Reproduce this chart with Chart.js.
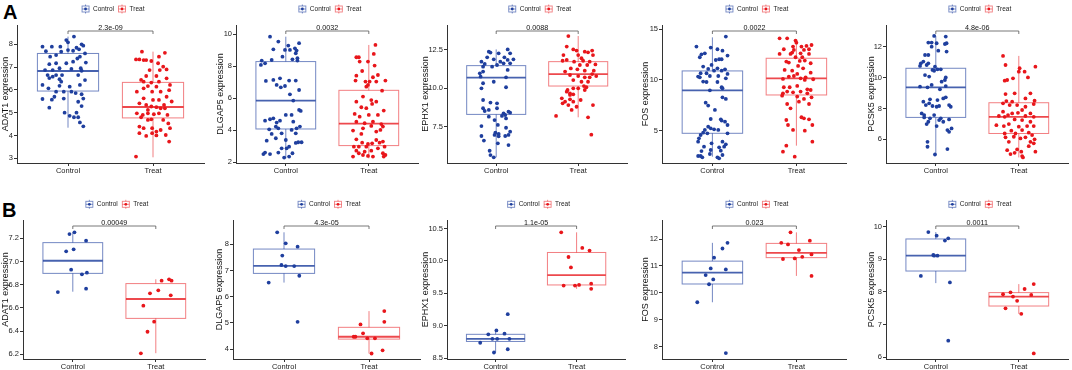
<!DOCTYPE html>
<html>
<head>
<meta charset="utf-8">
<script src="https://cdn.jsdelivr.net/npm/chart.js@4"></script>
<style>
  body { margin: 0; background: #fff; }
  #fig { position: relative; width: 1072px; height: 370px; overflow: hidden; background: #fff; }
  #fig canvas { position: absolute; }
  .tag { position: absolute; font: bold 20px 'Liberation Sans', Arial, sans-serif; line-height: 20px; color: #000; }
</style>
</head>
<body>
<div id="fig">
  <div class="tag" style="left:3px;top:2px">A</div>
  <div class="tag" style="left:2px;top:200px">B</div>
</div>
<script>
// groups and genes
const groups = ['Control', 'Treat'];
const genes = ['ADAT1', 'DLGAP5', 'EPHX1', 'FOS', 'PCSK5'];

// p values of the comparisons
const pValuesA = ['2.3e-09', '0.0032', '0.0088', '0.0022', '4.8e-06'];
const pValuesB = ['0.00049', '4.3e-05', '1.1e-05', '0.023', '0.0011'];

// y tick labels
const yTicksA = [
  ['3', '4', '5', '6', '7', '8'],
  ['2', '4', '6', '8', '10'],
  ['7.5', '10.0', '12.5'],
  ['5', '10', '15'],
  ['6', '8', '10', '12']
];
const yTicksB = [
  ['6.2', '6.4', '6.6', '6.8', '7.0', '7.2'],
  ['4', '5', '6', '7', '8'],
  ['8.5', '9.0', '9.5', '10.0', '10.5'],
  ['8', '9', '10', '11', '12'],
  ['6', '7', '8', '9', '10']
];

// y axis limits
const yRangeA = [[2.79, 8.85], [1.94, 10.58], [5.13, 14.13], [1.81, 15.42], [4.47, 13.4]];
const yRangeB = [[6.16, 7.358], [3.62, 8.93], [8.49, 10.63], [7.54, 12.71], [5.95, 10.2]];

// box stats: [lower whisker, q1, median, q3, upper whisker] for Control, Treat
const boxA = [
  [[4.34, 5.95, 6.83, 7.6, 8.34], [3.04, 4.77, 5.25, 6.33, 7.68]],
  [[2.23, 4.07, 5.85, 8.29, 9.85], [2.23, 3.03, 4.4, 6.49, 9.33]],
  [[5.5, 8.3, 10.7, 11.48, 12.54], [8.11, 10.15, 10.93, 11.74, 13.41]],
  [[2.43, 4.74, 8.98, 10.89, 14.2], [3.52, 8.52, 10.16, 12.14, 13.9]],
  [[4.98, 7.42, 9.37, 10.6, 12.69], [4.83, 6.38, 7.46, 8.37, 11.4]]
];
const boxB = [
  [[6.74, 6.898, 7.007, 7.163, 7.25], [6.21, 6.51, 6.677, 6.81, 6.847]],
  [[6.54, 6.89, 7.18, 7.82, 8.46], [3.83, 4.38, 4.47, 4.83, 5.45]],
  [[8.59, 8.76, 8.8, 8.87, 8.93], [9.57, 9.63, 9.78, 10.13, 10.44]],
  [[9.65, 10.33, 10.75, 11.18, 11.86], [10.63, 11.31, 11.49, 11.84, 12.25]],
  [[8.27, 8.64, 9.11, 9.62, 9.83], [7.33, 7.57, 7.86, 7.98, 8.24]]
];

// jittered samples: [x jitter, expression]
const adat1A_ctrl = [[0.07,8.34],[-0.02,8.19],[0,8.09],[-0.19,7.9],[-0.3,7.9],[-0.09,7.9],[0.16,8.0],[0.18,7.94],[0.1,7.85],[0,7.75],[-0.26,7.7],[-0.08,7.68],[0.06,7.72],[0.13,7.78],[-0.14,7.53],[-0.21,7.46],[0.14,7.46],[0.11,7.38],[0.2,7.6],[0.06,7.24],[-0.14,7.17],[0.21,7.2],[-0.22,7.13],[-0.02,7.17],[0.15,6.95],[-0.27,6.87],[-0.18,6.87],[-0.1,6.95],[0.04,6.92],[0.16,6.84],[-0.24,6.65],[-0.18,6.58],[-0.14,6.65],[-0.07,6.65],[-0.1,6.47],[-0.22,6.52],[0.12,6.65],[-0.3,6.22],[-0.23,6.07],[-0.08,6.36],[0.02,6.14],[0.14,6.22],[0.2,6.43],[-0.14,5.92],[-0.05,5.92],[0.04,5.92],[0.16,5.81],[0.09,5.86],[-0.3,5.6],[-0.16,5.7],[-0.05,5.62],[0.12,5.48],[0.18,5.62],[-0.22,5.22],[0.16,5.29],[-0.04,5.0],[0.1,5.0],[0.02,4.86],[0.07,4.8],[0.12,4.8],[0.14,4.57],[0.18,4.4],[-0.19,5.57],[-0.1,6.18]];
const adat1A_treat = [[-0.13,7.68],[-0.2,7.34],[-0.16,7.34],[-0.11,7.31],[-0.08,7.31],[0.07,7.46],[0.14,7.63],[-0.02,7.27],[0.06,7.17],[0.12,7.02],[-0.04,6.87],[0.08,6.87],[0.16,6.9],[-0.11,6.36],[-0.14,6.44],[-0.02,6.32],[0.07,6.36],[0.2,6.22],[-0.06,6.17],[0.04,6.14],[-0.19,5.92],[-0.01,5.92],[0.09,5.92],[0.19,5.99],[-0.11,5.63],[0,5.56],[0.07,5.56],[0.16,5.7],[-0.16,5.41],[-0.08,5.34],[-0.02,5.27],[0.04,5.24],[0.13,5.34],[0.22,5.49],[-0.19,4.97],[-0.12,4.9],[-0.06,4.97],[0.01,4.93],[0.07,4.97],[0.17,4.9],[-0.14,4.8],[-0.06,4.68],[-0.02,4.71],[0.12,4.68],[0.18,4.53],[-0.16,4.39],[-0.11,4.32],[-0.01,4.32],[0.09,4.24],[0.2,4.32],[-0.16,4.1],[-0.08,3.98],[-0.01,4.1],[0.04,4.17],[0.15,4.02],[0.04,4.0],[0.19,3.73],[-0.2,3.07],[0.09,5.19],[-0.06,5.12],[0.14,5.19],[-0.11,6.07],[0.16,6.51],[-0.08,6.61],[0.04,6.61]];

const dlgap5A_ctrl = [[-0.19,9.85],[-0.09,9.54],[0.03,9.29],[0.16,9.44],[-0.15,9.06],[-0.01,9.02],[0.05,9.02],[0.11,9.12],[0.13,8.98],[0.12,8.81],[-0.04,8.6],[0.14,8.5],[0.08,8.43],[-0.17,8.39],[-0.29,8.35],[-0.25,8.18],[-0.3,8.08],[0.14,8.35],[-0.15,7.14],[-0.07,7.24],[0.04,7.1],[0.12,7.1],[-0.24,7.08],[-0.11,6.83],[-0.06,6.68],[-0.01,6.76],[0.16,6.51],[0.05,6.24],[0.09,5.85],[0.16,5.26],[0.18,5.2],[0,4.95],[0.07,4.95],[-0.15,4.74],[-0.25,4.59],[-0.07,4.59],[-0.19,4.68],[-0.11,4.47],[0.09,4.53],[-0.12,4.22],[0.17,4.22],[0.13,4.11],[0.07,4.01],[-0.09,4.11],[-0.2,4.05],[-0.17,3.76],[-0.05,3.8],[0.12,3.8],[-0.12,3.49],[0,3.38],[0.15,3.24],[0.19,3.24],[-0.23,3.34],[-0.05,2.86],[0.01,2.86],[0.04,2.96],[-0.25,2.59],[-0.27,2.5],[-0.09,2.59],[0.08,2.55],[-0.19,2.5],[-0.02,2.28],[0.04,2.34],[0.12,3.2]];
const dlgap5A_treat = [[0.08,9.33],[0.06,8.77],[-0.15,8.56],[-0.12,8.56],[-0.01,8.29],[-0.11,8.29],[0.07,8.04],[-0.08,7.7],[-0.15,7.41],[0.11,7.45],[0.05,7.31],[0.2,7.1],[-0.16,7.1],[-0.04,7.04],[0.01,7.04],[0.09,7.04],[-0.01,6.83],[-0.03,6.72],[0.16,6.47],[-0.07,6.1],[-0.15,5.78],[0.03,5.88],[0.09,5.78],[-0.09,5.43],[-0.03,5.37],[0.04,5.64],[0.18,5.22],[-0.17,5.01],[-0.11,4.84],[0,4.95],[0.11,4.95],[-0.15,4.53],[-0.05,4.43],[0.05,4.53],[0.15,4.38],[-0.07,4.11],[0.03,4.26],[0.17,4.22],[-0.19,3.97],[-0.09,3.76],[0.09,3.91],[0.14,4.01],[-0.15,3.42],[0.09,3.38],[0.13,3.21],[0.17,3.28],[-0.08,3.21],[0.04,3.17],[-0.01,3.13],[-0.18,2.96],[-0.12,2.96],[-0.03,2.96],[0.11,2.86],[0.19,2.96],[-0.15,2.71],[-0.05,2.65],[0.03,2.71],[0.17,2.55],[0.2,2.44],[-0.12,2.55],[-0.01,2.38],[0.05,2.34],[-0.19,2.34],[-0.07,2.44],[0.18,2.34]];

const ephx1A_ctrl = [[0.14,12.54],[-0.09,12.39],[-0.07,12.33],[0.03,12.28],[0.17,12.28],[-0.11,12.02],[0.1,12.02],[-0.03,11.89],[0.14,11.85],[0.21,11.89],[-0.18,11.74],[0.05,11.74],[-0.14,11.59],[0.01,11.52],[0.09,11.63],[0.17,11.63],[-0.16,11.41],[-0.05,11.41],[-0.16,11.09],[-0.2,10.98],[0.14,11.2],[-0.19,10.76],[0.12,10.72],[-0.03,10.43],[-0.16,10.33],[0.12,10.07],[-0.18,10.0],[-0.16,9.24],[-0.07,9.07],[0.01,9.02],[-0.16,8.7],[-0.09,8.59],[0.01,8.7],[-0.14,8.52],[0.09,8.37],[0.15,8.48],[0.17,8.41],[0.11,8.26],[-0.09,8.15],[0.07,8.2],[-0.02,7.93],[0.12,8.04],[0.02,7.61],[-0.18,7.54],[0.12,7.43],[-0.01,7.11],[-0.02,6.96],[0.03,7.02],[0.17,7.17],[0.11,6.89],[0.15,6.96],[-0.18,6.89],[-0.15,6.59],[0.02,6.41],[0.15,6.3],[-0.08,5.93],[-0.07,5.65],[-0.03,5.5],[0.03,6.87]];
const ephx1A_treat = [[-0.12,13.41],[-0.14,12.72],[-0.06,12.54],[-0.02,12.46],[0.08,12.39],[0.12,12.35],[0.17,12.46],[-0.18,12.17],[0,12.17],[0.04,11.96],[0.18,12.17],[-0.14,11.85],[-0.19,11.8],[-0.05,11.74],[0.06,11.8],[0.14,11.74],[0.11,11.52],[0.02,11.52],[0.21,11.56],[-0.09,11.3],[-0.01,11.24],[0.08,11.15],[0.19,11.15],[0.17,10.93],[-0.16,11.09],[-0.1,10.87],[0,10.8],[0.08,10.72],[0.14,10.72],[0.22,10.8],[-0.06,10.54],[0.04,10.43],[0.12,10.43],[0.07,10.15],[0.1,10.07],[0,10.0],[-0.06,10.0],[-0.13,9.89],[-0.14,9.78],[-0.1,9.67],[-0.1,9.57],[-0.06,9.61],[0.08,9.89],[-0.2,9.35],[-0.1,9.28],[-0.16,9.13],[-0.06,9.13],[0.03,9.24],[-0.12,8.91],[-0.19,9.02],[-0.02,8.8],[0.18,8.91],[-0.08,8.59],[-0.27,8.2],[0.12,8.11],[0.16,6.98]];

const fosA_ctrl = [[0.16,14.28],[-0.19,13.29],[-0.02,13.19],[0.06,13.03],[0.12,12.89],[-0.13,12.53],[-0.09,12.63],[0.18,12.4],[-0.15,12.24],[0.08,12.04],[0.11,12.04],[0.04,11.97],[-0.01,11.48],[-0.11,11.32],[-0.05,11.09],[0.06,11.15],[0.15,11.05],[0.02,10.92],[0.11,10.92],[-0.14,10.66],[-0.07,10.66],[-0.17,10.33],[-0.15,10.26],[-0.03,10.39],[0.07,10.39],[0.18,10.59],[0.16,10.16],[-0.11,9.84],[-0.07,9.8],[0.06,9.8],[0.11,9.28],[-0.03,8.98],[0.12,9.18],[0.12,8.29],[0.16,8.13],[-0.08,7.76],[-0.05,7.47],[0.03,7.04],[-0.02,6.15],[0.1,6.12],[0.11,5.99],[0.15,5.89],[0.18,5.56],[-0.05,5.39],[-0.02,5.23],[0.02,5.13],[-0.09,5.07],[0.07,5.07],[-0.11,4.8],[-0.06,4.74],[-0.14,4.57],[0.18,4.74],[-0.16,4.24],[-0.17,3.91],[0.12,3.91],[0.16,3.65],[0.14,3.42],[-0.01,3.75],[-0.1,3.42],[0.08,3.36],[-0.02,3.09],[-0.13,2.99],[0.1,3.03],[-0.03,2.7],[-0.17,2.5],[-0.14,2.5],[-0.12,2.37],[0.06,2.37],[0.12,2.6],[0.08,2.27]];
const fosA_treat = [[-0.2,14.11],[-0.11,14.11],[-0.01,13.88],[0,13.68],[-0.04,13.29],[0.06,13.29],[0.12,13.36],[0.18,13.45],[-0.15,13.03],[-0.03,12.96],[0.09,12.96],[0.15,13.03],[-0.05,12.7],[-0.07,12.57],[-0.2,12.57],[0.05,12.63],[0.15,12.57],[-0.01,12.24],[0.07,12.24],[-0.12,11.81],[-0.09,11.71],[0.04,11.88],[0.1,11.91],[0.17,11.65],[0.02,11.38],[0.08,11.15],[-0.14,10.99],[-0.05,10.92],[0.01,10.59],[-0.09,10.33],[-0.03,10.39],[0.11,10.26],[0.17,10.72],[-0.16,10.1],[0.05,10.16],[0.1,10.0],[0.2,10.07],[-0.15,9.28],[-0.08,9.28],[0.01,9.41],[0.13,9.08],[0.17,9.01],[-0.11,8.85],[-0.04,8.78],[0.05,8.85],[-0.16,8.68],[-0.17,8.45],[0.13,8.68],[0.01,8.36],[0.09,8.13],[0.18,8.29],[-0.11,7.63],[0.15,7.63],[0.03,7.86],[-0.07,7.2],[0.06,6.32],[0.09,6.22],[0.15,6.12],[-0.12,6.05],[-0.1,5.56],[0.19,5.56],[0.1,5.0],[-0.04,5.07],[-0.12,3.52],[-0.16,2.93],[-0.02,2.43],[0.19,3.91]];

const pcsk5A_ctrl = [[-0.02,12.69],[0.12,12.65],[-0.09,12.26],[-0.05,12.26],[0.01,12.22],[0.11,12.17],[0.13,12.22],[-0.05,12.0],[-0.13,11.46],[-0.09,11.46],[0.13,11.68],[0.03,11.74],[-0.15,11.03],[-0.18,10.92],[-0.11,10.81],[-0.19,10.75],[-0.09,10.92],[0.02,10.53],[-0.04,10.49],[0.06,10.53],[-0.01,10.7],[-0.02,10.44],[-0.13,10.16],[-0.08,10.06],[0.12,10.01],[0.11,9.84],[0.07,9.73],[-0.19,9.41],[-0.1,9.37],[-0.05,9.52],[0.05,9.24],[0.12,9.45],[-0.07,8.59],[0.02,8.54],[-0.15,8.44],[0.09,8.65],[0.12,8.72],[-0.04,8.16],[0.01,8.11],[0.04,8.16],[0.18,8.11],[0.16,8.22],[-0.12,8.22],[-0.08,8.33],[-0.17,7.68],[-0.14,7.57],[-0.02,7.57],[-0.14,7.42],[-0.07,7.36],[-0.09,7.14],[-0.11,6.99],[0.06,7.36],[0.04,7.25],[0.16,7.29],[0.09,7.14],[0.14,6.6],[0.19,6.71],[0.16,6.49],[0.01,6.86],[-0.1,5.84],[-0.1,5.52],[0.14,5.37],[-0.01,5.02]];
const pcsk5A_treat = [[-0.19,11.4],[-0.16,10.81],[0.01,10.6],[0.2,10.7],[0,10.38],[0.07,10.38],[-0.14,9.84],[-0.17,9.8],[-0.07,9.95],[0.11,10.01],[-0.05,8.98],[0.14,8.98],[-0.16,8.93],[0.08,8.65],[-0.15,8.48],[-0.19,8.33],[-0.08,8.44],[0.19,8.5],[-0.11,8.22],[-0.02,8.22],[0.08,8.11],[0.18,8.28],[0.04,7.9],[-0.19,7.79],[-0.08,7.68],[-0.01,7.72],[0.14,7.68],[-0.13,7.57],[-0.24,7.51],[-0.17,7.46],[0.08,7.51],[0.18,7.46],[-0.05,7.29],[0.04,7.25],[0.14,7.14],[-0.12,6.99],[-0.18,6.86],[-0.27,6.92],[0,6.82],[0.1,6.86],[0.18,6.86],[-0.09,6.56],[0.04,6.6],[-0.17,6.38],[-0.04,6.38],[0.12,6.43],[0.16,6.28],[-0.16,6.13],[-0.06,6.17],[0.02,6.06],[0.08,6.13],[0.19,6.0],[-0.12,5.84],[0.14,5.84],[0.18,5.74],[0.12,5.56],[-0.14,5.3],[-0.02,5.35],[0.2,5.2],[-0.1,5.05],[-0.05,5.13],[0.04,4.92],[0.05,4.83],[0.03,5.2]];

const adat1B_ctrl = [[0.02,7.252],[-0.04,7.237],[0.16,7.18],[0.01,7.105],[-0.08,7.088],[-0.02,6.93],[0.17,6.904],[0.11,6.89],[-0.18,6.737],[0.16,6.766]];
const adat1B_treat = [[0.16,6.847],[0.19,6.835],[0.07,6.835],[0.03,6.752],[-0.07,6.726],[0.18,6.709],[-0.15,6.62],[-0.02,6.482],[-0.1,6.395],[-0.18,6.209]];
const dlgap5B_ctrl = [[-0.08,8.46],[0.02,8.04],[0.16,7.91],[-0.02,7.57],[-0.03,7.21],[0.02,7.17],[0.12,7.17],[0.18,6.8],[-0.18,6.54],[0.16,5.04]];
const dlgap5B_treat = [[0.18,5.45],[0.18,5.04],[-0.1,4.94],[-0.07,4.6],[-0.18,4.47],[-0.16,4.47],[-0.02,4.41],[0.07,4.41],[0.16,3.95],[0.03,3.83]];
const ephx1B_ctrl = [[0.15,9.18],[0.01,8.93],[-0.09,8.87],[0.11,8.88],[-0.04,8.8],[0.02,8.8],[0.17,8.8],[-0.19,8.74],[0.15,8.64],[-0.02,8.59]];
const ephx1B_treat = [[-0.19,10.44],[0.07,10.2],[0.16,10.16],[-0.1,10.06],[-0.07,9.9],[-0.16,9.62],[-0.02,9.62],[0.03,9.63],[0.18,9.65],[0.18,9.57]];
const fosB_ctrl = [[0.18,11.86],[0.12,11.65],[0.02,11.31],[-0.02,10.91],[0.16,10.87],[-0.08,10.66],[0.01,10.5],[-0.04,10.32],[-0.18,9.65],[0.16,7.76]];
const fosB_treat = [[-0.07,12.25],[0.16,11.94],[-0.18,11.86],[-0.1,11.8],[0.03,11.59],[0.18,11.43],[0.07,11.34],[-0.16,11.26],[-0.02,11.28],[0.18,10.63]];
const pcsk5B_ctrl = [[-0.09,9.83],[0.01,9.72],[0.15,9.64],[0.11,9.57],[-0.03,9.13],[0.02,9.11],[-0.02,9.11],[-0.18,8.49],[0.17,8.29],[0.15,6.51]];
const pcsk5B_treat = [[0.18,8.24],[0.07,8.09],[-0.1,7.99],[-0.19,7.93],[0.15,7.91],[-0.07,7.86],[-0.02,7.73],[-0.16,7.5],[0.03,7.33],[0.18,6.12]];

const samplesA = [[adat1A_ctrl, adat1A_treat], [dlgap5A_ctrl, dlgap5A_treat], [ephx1A_ctrl, ephx1A_treat], [fosA_ctrl, fosA_treat], [pcsk5A_ctrl, pcsk5A_treat]];
const samplesB = [[adat1B_ctrl, adat1B_treat], [dlgap5B_ctrl, dlgap5B_treat], [ephx1B_ctrl, ephx1B_treat], [fosB_ctrl, fosB_treat], [pcsk5B_ctrl, pcsk5B_treat]];

// ---- layout / style ----
const FONT = "'Liberation Sans', Arial, sans-serif";
const pointColors = ['#1f3f9e', '#e8161b'];
const boxColors = ['rgba(31,63,158,0.62)', 'rgba(232,22,27,0.55)'];
const medianColors = ['rgba(31,63,158,0.82)', 'rgba(232,22,27,0.78)'];

// title centre x, y axis line x, px per category (page coordinates)
const geoA = [{ tx: 5, L: 17, u: 85 }, { tx: 220, L: 236, u: 83 }, { tx: 425, L: 447, u: 82 }, { tx: 645, L: 662, u: 84 }, { tx: 871, L: 886, u: 83 }];
const geoB = [{ tx: 5, L: 23, u: 83 }, { tx: 219, L: 233, u: 85 }, { tx: 425, L: 447, u: 81 }, { tx: 645, L: 662, u: 84 }, { tx: 871, L: 886, u: 83 }];
const rowA = { top: 0, plotTop: 25, plotBottom: 163, legendY: 9 };
const rowB = { top: 185, plotTop: 220, plotBottom: 359, legendY: 19.3 };

const boxPlugin = {
  id: 'boxes',
  beforeDatasetsDraw(chart, args, opts) {
    const { ctx, scales: { x, y } } = chart;
    opts.stats.forEach((s, i) => {
      const cx = x.getPixelForValue(i + 1);
      const hw = x.getPixelForValue(i + 1.36) - cx;
      const [lo, q1, med, q3, hi] = s.map(v => y.getPixelForValue(v));
      ctx.save();
      ctx.strokeStyle = boxColors[i];
      ctx.lineWidth = 1;
      ctx.beginPath();
      ctx.moveTo(cx, q3); ctx.lineTo(cx, hi);
      ctx.moveTo(cx, q1); ctx.lineTo(cx, lo);
      ctx.stroke();
      ctx.strokeRect(cx - hw, q3, hw * 2, q1 - q3);
      ctx.strokeStyle = medianColors[i];
      ctx.lineWidth = 1.8;
      ctx.beginPath();
      ctx.moveTo(cx - hw, med); ctx.lineTo(cx + hw, med);
      ctx.stroke();
      ctx.restore();
    });
  },
  afterDatasetsDraw(chart, args, opts) {
    const { ctx, chartArea, scales: { x } } = chart;
    const x1 = x.getPixelForValue(1), x2 = x.getPixelForValue(2);
    const by = chartArea.top + 6;
    ctx.save();
    ctx.strokeStyle = '#555';
    ctx.lineWidth = 0.8;
    ctx.beginPath();
    ctx.moveTo(x1, by + 3); ctx.lineTo(x1, by); ctx.lineTo(x2, by); ctx.lineTo(x2, by + 3);
    ctx.stroke();
    ctx.fillStyle = '#111';
    ctx.font = '7.2px ' + FONT;
    ctx.textAlign = 'center';
    ctx.textBaseline = 'alphabetic';
    ctx.fillText(opts.pValue, (x1 + x2) / 2, by - 1.4);
    ctx.restore();
  },
  afterDraw(chart, args, opts) {
    const { ctx, chartArea } = chart;
    ctx.save();
    ctx.font = '6.5px ' + FONT;
    const iw = 8, gap = 3.5, sep = 4;
    const widths = groups.map(g => ctx.measureText(g).width);
    const total = groups.length * (iw + gap) + widths[0] + sep + widths[1];
    let cx = (chartArea.left + chartArea.right) / 2 + 2.5 - total / 2;
    const cy = opts.legendY;
    groups.forEach((g, i) => {
      ctx.strokeStyle = boxColors[i];
      ctx.lineWidth = 0.9;
      ctx.strokeRect(cx + 0.5, cy - 3, iw - 1, 6);
      ctx.beginPath();
      ctx.moveTo(cx + iw / 2, cy - 4.5); ctx.lineTo(cx + iw / 2, cy - 3);
      ctx.moveTo(cx + iw / 2, cy + 3); ctx.lineTo(cx + iw / 2, cy + 4.5);
      ctx.moveTo(cx + 0.5, cy); ctx.lineTo(cx + iw - 0.5, cy);
      ctx.stroke();
      ctx.fillStyle = pointColors[i];
      ctx.beginPath();
      ctx.arc(cx + iw / 2, cy, 1.4, 0, Math.PI * 2);
      ctx.fill();
      cx += iw + gap;
      ctx.fillStyle = '#222';
      ctx.textAlign = 'left';
      ctx.textBaseline = 'middle';
      ctx.fillText(g, cx, cy + 0.3);
      cx += widths[i] + sep;
    });
    ctx.restore();
  }
};

function makePanel(k, row, geo, samples, stats, range, tickLabels, pValue) {
  const left = Math.max(0, Math.round(geo.tx - 5.4));
  const R = geo.L + 2.2 * geo.u;
  const width = Math.ceil(R) - left + 3;
  const height = 185;
  const canvas = document.createElement('canvas');
  canvas.width = width;
  canvas.height = height;
  canvas.style.left = left + 'px';
  canvas.style.top = row.top + 'px';
  document.getElementById('fig').appendChild(canvas);

  const yW = geo.L - left;
  const xH = row.top + height - row.plotBottom;
  const tickVals = tickLabels.map(Number);

  new Chart(canvas, {
    type: 'scatter',
    data: {
      datasets: groups.map((g, i) => ({
        label: g,
        data: samples[i].map(p => ({ x: i + 1 + p[0], y: p[1] })),
        pointRadius: 1.9,
        pointBorderWidth: 0,
        pointBackgroundColor: pointColors[i],
        pointHoverRadius: 1.9
      }))
    },
    options: {
      responsive: false,
      animation: false,
      events: [],
      layout: { padding: { top: row.plotTop - row.top, right: width - (R - left), bottom: 0, left: 0 } },
      plugins: {
        legend: { display: false },
        tooltip: { enabled: false },
        boxes: { stats: stats, pValue: pValue, legendY: row.legendY }
      },
      scales: {
        x: {
          type: 'linear',
          min: 0.4,
          max: 2.6,
          afterBuildTicks: s => { s.ticks = [{ value: 1 }, { value: 2 }]; },
          afterFit: s => { s.height = xH; },
          ticks: {
            callback: v => groups[v - 1],
            font: { family: FONT, size: 7.5 },
            color: '#222',
            padding: 0,
            maxRotation: 0
          },
          grid: { drawOnChartArea: false, drawTicks: true, tickLength: 3, color: '#333' },
          border: { display: true, color: '#333', width: 1 }
        },
        y: {
          type: 'linear',
          min: range[0],
          max: range[1],
          afterBuildTicks: s => { s.ticks = tickVals.map(v => ({ value: v })); },
          afterFit: s => { s.width = yW; },
          ticks: {
            callback: v => tickLabels[tickVals.indexOf(v)],
            font: { family: FONT, size: 7.5 },
            color: '#222',
            padding: 1
          },
          title: {
            display: true,
            text: genes[k] + ' expression',
            font: { family: FONT, size: 9 },
            color: '#111',
            padding: { top: 0, bottom: 0 }
          },
          grid: { drawOnChartArea: false, drawTicks: true, tickLength: 3, color: '#333' },
          border: { display: true, color: '#333', width: 1 }
        }
      }
    },
    plugins: [boxPlugin]
  });
}

genes.forEach((g, k) => {
  makePanel(k, rowA, geoA[k], samplesA[k], boxA[k], yRangeA[k], yTicksA[k], pValuesA[k]);
  makePanel(k, rowB, geoB[k], samplesB[k], boxB[k], yRangeB[k], yTicksB[k], pValuesB[k]);
});
</script>
</body>
</html>
